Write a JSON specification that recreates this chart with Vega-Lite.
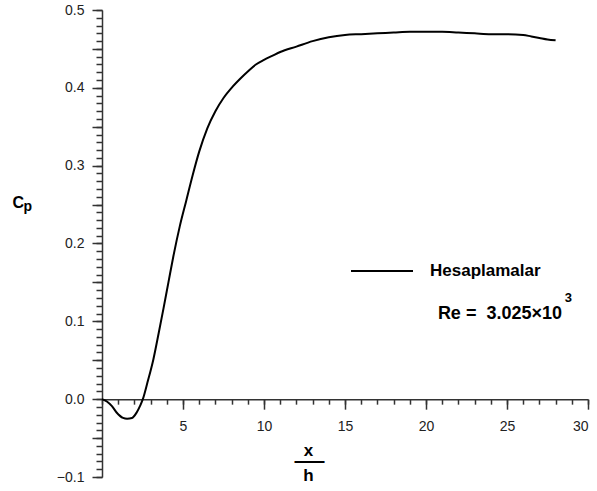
{
  "$schema": "https://vega.github.io/schema/vega-lite/v6.json",
  "width": 486,
  "height": 467,
  "autosize": {"type": "none"},
  "padding": {"left": 102, "top": 10, "right": 9, "bottom": 14},
  "background": "white",
  "config": {
    "view": {"stroke": null},
    "font": "Liberation Sans",
    "axis": {"grid": false, "domainColor": "#333333", "tickColor": "#333333", "domainWidth": 1.5, "tickWidth": 1.5, "labelColor": "#222222", "labelFont": "Liberation Sans", "labelFontSize": 14, "titleColor": "#000000", "titleFont": "Liberation Sans", "titleFontWeight": "bold"}
  },
  "title": {
    "text": "3",
    "subtitle": "Re =\u00a0\u00a03.025×10\u2007\u2060",
    "anchor": "end",
    "frame": "group",
    "orient": "top",
    "dx": -16,
    "dy": 320,
    "offset": 0,
    "font": "Liberation Sans",
    "fontSize": 13,
    "fontWeight": "bold",
    "color": "#000000",
    "subtitleFont": "Liberation Sans",
    "subtitleFontSize": 18,
    "subtitleFontWeight": "bold",
    "subtitleColor": "#000000",
    "subtitlePadding": 0
  },
  "data": {
    "values": [
      {"x": 0, "cp": 0},
      {"x": 0.3, "cp": -0.003},
      {"x": 0.6, "cp": -0.0086},
      {"x": 0.9, "cp": -0.0171},
      {"x": 1.3, "cp": -0.0240},
      {"x": 1.55, "cp": -0.0250},
      {"x": 1.85, "cp": -0.0242},
      {"x": 2.14, "cp": -0.0171},
      {"x": 2.35, "cp": -0.0086},
      {"x": 2.52, "cp": 0},
      {"x": 2.8, "cp": 0.021},
      {"x": 3.17, "cp": 0.051},
      {"x": 3.5, "cp": 0.085},
      {"x": 3.8, "cp": 0.117},
      {"x": 4.1, "cp": 0.150},
      {"x": 4.4, "cp": 0.183},
      {"x": 4.8, "cp": 0.222},
      {"x": 5.2, "cp": 0.255},
      {"x": 5.6, "cp": 0.288},
      {"x": 6.0, "cp": 0.318},
      {"x": 6.5, "cp": 0.348},
      {"x": 7.0, "cp": 0.370},
      {"x": 7.5, "cp": 0.387},
      {"x": 8.0, "cp": 0.400},
      {"x": 8.5, "cp": 0.411},
      {"x": 9.0, "cp": 0.421},
      {"x": 9.5, "cp": 0.430},
      {"x": 10.0, "cp": 0.436},
      {"x": 10.5, "cp": 0.441},
      {"x": 11.0, "cp": 0.446},
      {"x": 12.0, "cp": 0.453},
      {"x": 13.0, "cp": 0.460},
      {"x": 14.0, "cp": 0.465},
      {"x": 15.0, "cp": 0.468},
      {"x": 16.0, "cp": 0.469},
      {"x": 17.0, "cp": 0.470},
      {"x": 18.0, "cp": 0.471},
      {"x": 19.0, "cp": 0.472},
      {"x": 20.0, "cp": 0.472},
      {"x": 21.0, "cp": 0.472},
      {"x": 22.0, "cp": 0.471},
      {"x": 23.0, "cp": 0.470},
      {"x": 24.0, "cp": 0.469},
      {"x": 25.0, "cp": 0.469},
      {"x": 26.0, "cp": 0.468},
      {"x": 26.5, "cp": 0.466},
      {"x": 27.0, "cp": 0.464},
      {"x": 27.5, "cp": 0.462},
      {"x": 28.0, "cp": 0.461}
    ]
  },
  "layer": [
    {
      "mark": {"type": "line", "opacity": 0},
      "encoding": {
        "x": {"field": "x", "type": "quantitative", "scale": {"domain": [0, 30], "nice": false, "zero": false},
          "axis": {"orient": "bottom", "values": [0,1,2,3,4,5,6,7,8,9,10,11,12,13,14,15,16,17,18,19,20,21,22,23,24,25,26,27,28,29,30], "tickSize": 5, "labels": false, "domain": false, "offset": -77.83, "title": "h", "titleFontSize": 17, "titleAlign": "center", "titleBaseline": "alphabetic", "titleX": 206, "titleY": 81}},
        "y": {"field": "cp", "type": "quantitative", "scale": {"domain": [-0.1, 0.5], "nice": false, "zero": false},
          "axis": {"orient": "left", "values": [-0.1,-0.09,-0.08,-0.07,-0.06,-0.05,-0.04,-0.03,-0.02,-0.01,0,0.01,0.02,0.03,0.04,0.05,0.06,0.07,0.08,0.09,0.1,0.11,0.12,0.13,0.14,0.15,0.16,0.17,0.18,0.19,0.2,0.21,0.22,0.23,0.24,0.25,0.26,0.27,0.28,0.29,0.3,0.31,0.32,0.33,0.34,0.35,0.36,0.37,0.38,0.39,0.4,0.41,0.42,0.43,0.44,0.45,0.46,0.47,0.48,0.49,0.5], "tickSize": 6, "labels": false, "domain": false, "title": "p", "titleFontSize": 14, "titleAngle": 0, "titleAlign": "left", "titleBaseline": "alphabetic", "titleX": -79, "titleY": 200}}
      }
    },
    {
      "mark": {"type": "line", "opacity": 0},
      "encoding": {
        "x": {"field": "x", "type": "quantitative",
          "axis": {"orient": "bottom", "values": [5], "ticks": false, "labels": false, "domain": false, "offset": -77.83, "title": "—", "titleFontSize": 30, "titleFontWeight": "normal", "titleAlign": "center", "titleBaseline": "alphabetic", "titleX": 207, "titleY": 70}},
        "y": {"field": "cp", "type": "quantitative",
          "axis": {"orient": "left", "values": [-0.05, 0.05, 0.15, 0.25, 0.35, 0.45], "tickSize": 10, "labels": false, "domain": false, "title": null}}
      }
    },
    {
      "mark": {"type": "line", "strokeWidth": 2, "interpolate": "monotone"},
      "encoding": {
        "x": {"field": "x", "type": "quantitative",
          "axis": {"orient": "bottom", "values": [5, 10, 15, 20, 25, 30], "tickSize": 10, "labelPadding": 10, "offset": -77.83, "title": "x", "titleFontSize": 17, "titleAlign": "center", "titleBaseline": "alphabetic", "titleX": 206, "titleY": 56}},
        "y": {"field": "cp", "type": "quantitative",
          "axis": {"orient": "left", "values": [-0.1, 0, 0.1, 0.2, 0.3, 0.4, 0.5], "format": ".1f", "tickSize": 10, "labelPadding": 8, "title": "C", "titleFontSize": 16, "titleAngle": 0, "titleAlign": "left", "titleBaseline": "alphabetic", "titleX": -90, "titleY": 197}},
        "stroke": {"datum": "Hesaplamalar", "type": "nominal", "scale": {"range": ["#000000"]},
          "legend": {"orient": "none", "legendX": 248, "legendY": 229, "title": null, "padding": 0, "symbolType": "stroke", "symbolSize": 3844, "symbolStrokeWidth": 2, "symbolStrokeColor": "#000000", "labelFont": "Liberation Sans", "labelFontSize": 17, "labelFontWeight": "bold", "labelColor": "#000000", "labelOffset": 16}}
      }
    }
  ],
  "resolve": {"axis": {"x": "independent", "y": "independent"}}
}
